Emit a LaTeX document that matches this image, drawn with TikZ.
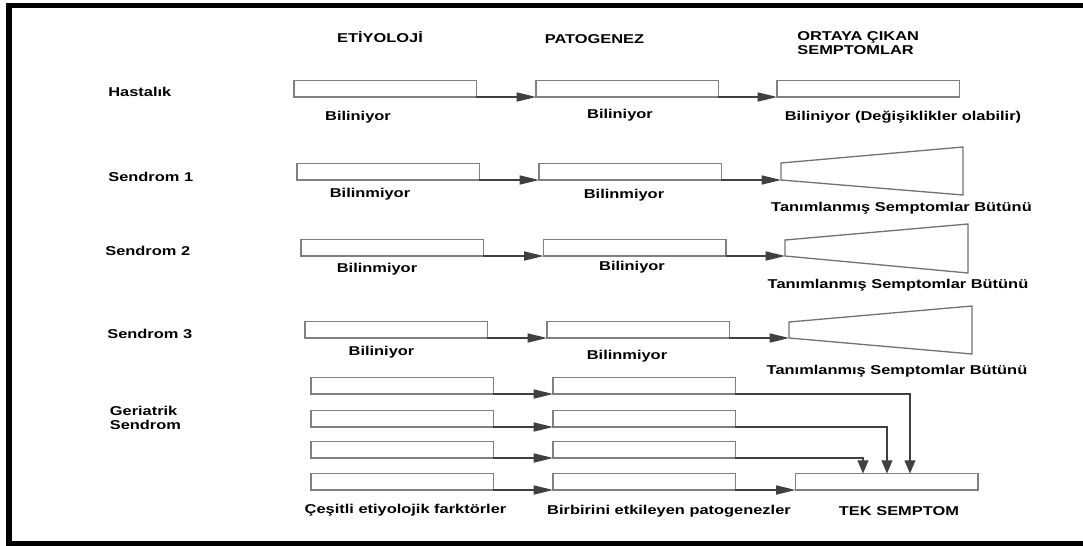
\documentclass[tikz,border=0pt]{standalone}
\usepackage{fontspec}
\newfontfamily\lbl{Liberation Sans}[FakeStretch=1.28]
\usetikzlibrary{arrows.meta}
\tikzset{
  bx/.style={draw=black!50, line width=0.75pt, minimum width=3.65cm, minimum height=0.33cm,
    inner sep=0pt, outer sep=0pt, anchor=south west},
  lab/.style={font=\lbl\bfseries\fontsize{7.3}{8}\selectfont, inner sep=0pt, text=black},
  conn/.style={draw=black!75, line width=0.7pt, -{Triangle[length=11pt,width=5.2pt]}},
  vconn/.style={draw=black!75, line width=0.7pt, -{Triangle[length=7.5pt,width=6.2pt]}},
  trap/.style={draw=black!55, line width=0.75pt, line join=miter},
  frame/.style={draw=black, line width=3.3pt, line join=miter}
}
\begin{document}
\begin{tikzpicture}[x=0.02cm, y=-0.02cm]
\useasboundingbox (0,0) rectangle (1083,545);
\draw[frame] (1090,5.5) -- (9,5.5) -- (9,543.5) -- (1090,543.5);

% headers
\node[lab] (h1) at (380,37) {ETİYOLOJİ};
\node[lab] (h2) at (594.5,39) {PATOGENEZ};
\node[lab, align=left, anchor=west] (h3) at (797,43) {ORTAYA ÇIKAN\\SEMPTOMLAR};

% row labels
\node[lab, anchor=west] (r1) at (108,92) {Hastalık};
\node[lab, anchor=west] (r2) at (108,177) {Sendrom 1};
\node[lab, anchor=west] (r3) at (105,251) {Sendrom 2};
\node[lab, anchor=west] (r4) at (107,334) {Sendrom 3};
\node[lab, anchor=west, align=left] (r5) at (109.5,418) {Geriatrik\\Sendrom};

% row 1
\node[bx] (a1) at (294,97) {};
\node[bx] (a2) at (536,97) {};
\node[bx] (a3) at (777,97) {};
\draw[conn] (a1.south east) -- (a2.south west);
\draw[conn] (a2.south east) -- (a3.south west);
\node[lab] (l11) at (358,117) {Biliniyor};
\node[lab] (l12) at (620,115) {Biliniyor};
\node[lab] (l13) at (903,117) {Biliniyor (Değişiklikler olabilir)};

% row 2
\node[bx] (b1) at (297,180) {};
\node[bx] (b2) at (539,180) {};
\draw[trap] (781,163) -- (963,147) -- (963,195) -- (781,180) -- cycle;
\coordinate (t2) at (781,180);
\draw[conn] (b1.south east) -- (b2.south west);
\draw[conn] (b2.south east) -- (t2);
\node[lab] (l21) at (370,194) {Bilinmiyor};
\node[lab] (l22) at (624,195) {Bilinmiyor};
\node[lab] (l23) at (901.5,208) {Tanımlanmış Semptomlar Bütünü};

% row 3
\node[bx] (c1) at (301,256) {};
\node[bx] (c2) at (543.5,256) {};
\draw[trap] (785,240) -- (968,224) -- (968,273) -- (785,256) -- cycle;
\coordinate (t3) at (785,256);
\draw[conn] (c1.south east) -- (c2.south west);
\draw[conn] (c2.south east) -- (t3);
\node[lab] (l31) at (377,269) {Bilinmiyor};
\node[lab] (l32) at (632,267) {Biliniyor};
\node[lab] (l33) at (898,285) {Tanımlanmış Semptomlar Bütünü};

% row 4
\node[bx] (d1) at (305,338) {};
\node[bx] (d2) at (547,338) {};
\draw[trap] (789,322) -- (972,306) -- (972,354) -- (789,338) -- cycle;
\coordinate (t4) at (789,338);
\draw[conn] (d1.south east) -- (d2.south west);
\draw[conn] (d2.south east) -- (t4);
\node[lab] (l41) at (381.5,352) {Biliniyor};
\node[lab] (l42) at (627,356) {Bilinmiyor};
\node[lab] (l43) at (897,371) {Tanımlanmış Semptomlar Bütünü};

% geriatric
\node[bx] (g11) at (311,394) {};
\node[bx] (g12) at (311,427) {};
\node[bx] (g13) at (311,458) {};
\node[bx] (g14) at (311,490) {};
\node[bx] (g21) at (553,394) {};
\node[bx] (g22) at (553,427) {};
\node[bx] (g23) at (553,458) {};
\node[bx] (g24) at (553,490) {};
\node[bx] (tek) at (795.5,490) {};
\draw[conn] (g11.south east) -- (g21.south west);
\draw[conn] (g12.south east) -- (g22.south west);
\draw[conn] (g13.south east) -- (g23.south west);
\draw[conn] (g14.south east) -- (g24.south west);
\draw[conn] (g24.south east) -- (tek.south west);
\draw[vconn] (g21.south east) -| ([xshift=2.29cm]tek.north west);
\draw[vconn] (g22.south east) -| ([xshift=1.83cm]tek.north west);
\draw[vconn] (g23.south east) -| ([xshift=1.35cm]tek.north west);
\node[lab] (l51) at (405.5,510) {Çeşitli etiyolojik farktörler};
\node[lab] (l52) at (669,511) {Birbirini etkileyen patogenezler};
\node[lab] (l53) at (899,511) {TEK SEMPTOM};
\end{tikzpicture}
\end{document}
